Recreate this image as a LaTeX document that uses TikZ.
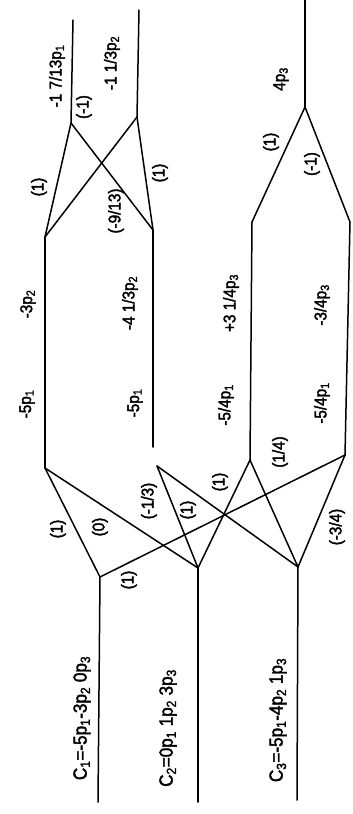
\documentclass[tikz,border=0pt]{standalone}
\usepackage{fontspec}
\setmainfont[FakeBold=2,FakeStretch=0.9]{Liberation Sans}
\newcommand\pp[1]{p\textsubscript{#1}}
\begin{document}
\begin{tikzpicture}[x=1pt,y=-1pt,
  edge/.style={line width=1.5pt,line cap=round,line join=round},
  lbl/.style={rotate=90,inner sep=0pt,font=\fontsize{17}{17}\selectfont},
  clbl/.style={rotate=90,inner sep=0pt,font=\fontsize{19}{19}\selectfont}]
\useasboundingbox[fill=white] (0,0) rectangle (353,814);
% vertices
\coordinate (C1b) at (98,802);  \coordinate (C1) at (100,577);
\coordinate (C2b) at (198,802); \coordinate (C2) at (198,568);
\coordinate (C3b) at (297,800); \coordinate (C3) at (298,567);
\coordinate (A) at (45,468);    \coordinate (F) at (45,237);
\coordinate (B) at (157,466);
\coordinate (G) at (153,230);   \coordinate (Gb) at (153,447);
\coordinate (D) at (250,460);   \coordinate (K) at (252,222);
\coordinate (E) at (345,455);   \coordinate (L) at (350,222);
\coordinate (H) at (71,123);    \coordinate (Ht) at (73,20);
\coordinate (I) at (137,117);   \coordinate (It) at (139,10);
\coordinate (J) at (305,107);   \coordinate (Jt) at (305,0);
% connectors
\draw[edge] (C1b) -- (C1);
\draw[edge] (C2b) -- (C2);
\draw[edge] (C3b) -- (C3);
\draw[edge] (C1) -- (A);
\draw[edge] (C2) -- (A);
\draw[edge] (C1) -- (E);
\draw[edge] (C2) -- (B);
\draw[edge] (C2) -- (D);
\draw[edge] (C3) -- (B);
\draw[edge] (C3) -- (D);
\draw[edge] (C3) -- (E);
\draw[edge] (A) -- (F);
\draw[edge] (F) -- (H);
\draw[edge] (F) -- (I);
\draw[edge] (G) -- (H);
\draw[edge] (G) -- (I);
\draw[edge] (G) -- (Gb);
\draw[edge] (H) -- (Ht);
\draw[edge] (I) -- (It);
\draw[edge] (D) -- (K);
\draw[edge] (E) -- (L);
\draw[edge] (K) -- (J);
\draw[edge] (L) -- (J);
\draw[edge] (J) -- (Jt);
% labels
\node[lbl] (l1) at (57,76) {-1 7/13\pp1};
\node[lbl] (l2) at (112,63) {-1 1/3\pp2};
\node[lbl] (l3) at (281,79) {4\pp3};
\node[lbl] (l4) at (39,187) {(1)};
\node[lbl] (l5) at (84,107) {(-1)};
\node[lbl] (l6) at (116,211) {(-9/13)};
\node[lbl] (l7) at (160,173) {(1)};
\node[lbl] (l8) at (271,142) {(1)};
\node[lbl] (l9) at (312,164) {(-1)};
\node[lbl] (m1) at (27,404) {-5\pp1};
\node[lbl] (m2) at (28,304) {-3\pp2};
\node[lbl] (m3) at (135,403) {-5\pp1};
\node[lbl] (m4) at (130,303) {-4 1/3\pp2};
\node[lbl] (m5) at (226,405) {-5/4\pp1};
\node[lbl] (m6) at (231,303) {+3 1/4\pp3};
\node[lbl] (m7) at (322,403) {-5/4\pp1};
\node[lbl] (m8) at (322,305) {-3/4\pp3};
\node[lbl] (x1) at (280,452) {(1/4)};
\node[lbl] (x2) at (58,529) {(1)};
\node[lbl] (x3) at (100,527) {(0)};
\node[lbl] (x4) at (149,501) {(-1/3)};
\node[lbl] (x5) at (188,510) {(1)};
\node[lbl] (x6) at (220,482) {(1)};
\node[lbl] (x7) at (337,527) {(-3/4)};
\node[lbl] (x8) at (129,580) {(1)};
\node[clbl] (c1) at (82,718) {C\textsubscript{1}=-5\pp1-3\pp2 0\pp3};
\node[clbl] (c2) at (168,728) {C\textsubscript{2}=0\pp1 1\pp2 3\pp3};
\node[clbl] (c3) at (278,720) {C\textsubscript{3}=-5\pp1-4\pp2 1\pp3};
\end{tikzpicture}
\end{document}
